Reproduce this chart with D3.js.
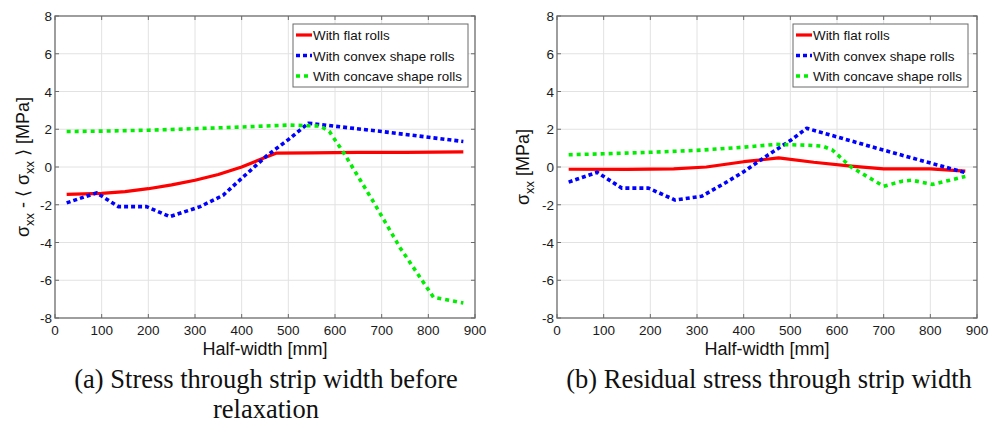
<!DOCTYPE html>
<html>
<head>
<meta charset="utf-8">
<script src="https://cdn.jsdelivr.net/npm/d3@7"></script>
<style>
  body { margin: 0; background: #fff; }
  svg { display: block; }
  .tick-label { font-family: "Liberation Sans", Arial, sans-serif; font-size: 13.5px; fill: #1a1a1a; }
  .axis-title { font-family: "Liberation Sans", Arial, sans-serif; font-size: 18px; fill: #111; }
  .legend-text { font-family: "Liberation Sans", Arial, sans-serif; font-size: 13.4px; fill: #111; }
  .caption { font-family: "Liberation Serif", "Times New Roman", serif; font-size: 26.5px; fill: #111; }
</style>
</head>
<body>
<div id="chart"></div>
<script>
"use strict";

// ---- data (x in mm, y in MPa)
var xTicks = [0, 100, 200, 300, 400, 500, 600, 700, 800, 900];
var yTicks = [-8, -6, -4, -2, 0, 2, 4, 6, 8];
var seriesNames = ["With flat rolls", "With convex shape rolls", "With concave shape rolls"];

// (a) before relaxation
var flatA_x    = [25, 100, 150, 200, 250, 300, 350, 400, 450, 475, 550, 650, 750, 875];
var flatA_y    = [-1.45, -1.4, -1.3, -1.15, -0.95, -0.7, -0.4, 0.0, 0.5, 0.74, 0.75, 0.77, 0.78, 0.8];
var convexA_x  = [25, 89, 136, 196, 246, 311, 360, 400, 454, 500, 543, 700, 875];
var convexA_y  = [-1.9, -1.37, -2.1, -2.1, -2.63, -2.1, -1.5, -0.6, 0.6, 1.45, 2.32, 1.88, 1.35];
var concaveA_x = [25, 100, 200, 300, 400, 500, 568, 588, 620, 680, 740, 811, 875];
var concaveA_y = [1.88, 1.9, 1.95, 2.03, 2.12, 2.22, 2.17, 1.88, 0.7, -1.75, -4.3, -6.9, -7.2];

// (b) residual
var flatB_x    = [25, 150, 250, 320, 400, 475, 550, 630, 700, 800, 875];
var flatB_y    = [-0.12, -0.13, -0.1, 0.0, 0.28, 0.48, 0.25, 0.05, -0.1, -0.1, -0.22];
var convexB_x  = [25, 86, 139, 196, 253, 310, 360, 400, 450, 500, 535, 699, 875];
var convexB_y  = [-0.8, -0.28, -1.12, -1.12, -1.75, -1.55, -0.85, -0.25, 0.6, 1.4, 2.05, 0.9, -0.3];
var concaveB_x = [25, 100, 200, 300, 400, 470, 540, 570, 590, 630, 700, 740, 760, 805, 875];
var concaveB_y = [0.65, 0.7, 0.78, 0.88, 1.05, 1.2, 1.15, 1.1, 0.9, 0.0, -1.02, -0.75, -0.7, -0.92, -0.5];

var W = 1002, H = 423;
var svg = d3.select("#chart").append("svg")
    .attr("width", W)
    .attr("height", H);

var colors = ["#ff0000", "#0000ff", "#00ee00"];
var dashes = [null, "4,3", "4,4"];
var widths = [3.2, 3.6, 3.6];

function zipPts(xs, ys) {
    return xs.map(function (x, i) { return [x, ys[i]]; });
}

function drawPanel(cfg) {
    var x = d3.scaleLinear().domain([0, 900]).range([cfg.left, cfg.right]);
    var y = d3.scaleLinear().domain([-8, 8]).range([318, 16]);
    var g = svg.append("g");

    // grid
    g.append("g").selectAll("line")
        .data(xTicks.slice(1, -1)).enter().append("line")
        .attr("x1", function (d) { return x(d); }).attr("x2", function (d) { return x(d); })
        .attr("y1", y(8)).attr("y2", y(-8))
        .attr("stroke", "#e2e2e2").attr("stroke-width", 1);
    g.append("g").selectAll("line")
        .data(yTicks.slice(1, -1)).enter().append("line")
        .attr("y1", function (d) { return y(d); }).attr("y2", function (d) { return y(d); })
        .attr("x1", x(0)).attr("x2", x(900))
        .attr("stroke", "#e2e2e2").attr("stroke-width", 1);

    // box + inside ticks
    g.append("rect")
        .attr("x", x(0)).attr("y", y(8))
        .attr("width", x(900) - x(0)).attr("height", y(-8) - y(8))
        .attr("fill", "none").attr("stroke", "#6a6a6a").attr("stroke-width", 1.3);
    var tk = g.append("g").attr("stroke", "#6a6a6a").attr("stroke-width", 1);
    xTicks.forEach(function (d) {
        tk.append("line").attr("x1", x(d)).attr("x2", x(d)).attr("y1", y(-8)).attr("y2", y(-8) - 4);
        tk.append("line").attr("x1", x(d)).attr("x2", x(d)).attr("y1", y(8)).attr("y2", y(8) + 4);
    });
    yTicks.forEach(function (d) {
        tk.append("line").attr("y1", y(d)).attr("y2", y(d)).attr("x1", x(0)).attr("x2", x(0) + 4);
        tk.append("line").attr("y1", y(d)).attr("y2", y(d)).attr("x1", x(900)).attr("x2", x(900) - 4);
    });

    // tick labels
    g.append("g").selectAll("text")
        .data(xTicks).enter().append("text")
        .attr("class", "tick-label")
        .attr("x", function (d) { return x(d); })
        .attr("y", y(-8) + 17)
        .attr("text-anchor", "middle")
        .text(function (d) { return d; });
    g.append("g").selectAll("text")
        .data(yTicks).enter().append("text")
        .attr("class", "tick-label")
        .attr("x", x(0) - 3)
        .attr("y", function (d) { return y(d) + 5; })
        .attr("text-anchor", "end")
        .text(function (d) { return d; });

    // series
    var line = d3.line()
        .x(function (d) { return x(d[0]); })
        .y(function (d) { return y(d[1]); });
    cfg.series.forEach(function (pts, i) {
        g.append("path")
            .datum(pts)
            .attr("d", line)
            .attr("fill", "none")
            .attr("stroke", colors[i])
            .attr("stroke-width", widths[i])
            .attr("stroke-dasharray", dashes[i])
            .attr("stroke-linejoin", "round");
    });

    // legend
    var lx = cfg.legendX, ly = 24;
    var lg = g.append("g");
    lg.append("rect")
        .attr("x", lx).attr("y", ly)
        .attr("width", 175).attr("height", 63)
        .attr("fill", "#fff").attr("stroke", "#6a6a6a").attr("stroke-width", 1);
    seriesNames.forEach(function (name, i) {
        var yy = ly + 11 + i * 20.5;
        lg.append("line")
            .attr("x1", lx + 3).attr("x2", lx + 19)
            .attr("y1", yy).attr("y2", yy)
            .attr("stroke", colors[i]).attr("stroke-width", widths[i])
            .attr("stroke-dasharray", dashes[i]);
        lg.append("text")
            .attr("class", "legend-text")
            .attr("x", lx + 20).attr("y", yy + 5)
            .text(name);
    });

    // x title
    g.append("text")
        .attr("class", "axis-title")
        .attr("x", (x(0) + x(900)) / 2)
        .attr("y", 355)
        .attr("text-anchor", "middle")
        .text("Half-width [mm]");

    // y title
    var yt = g.append("text")
        .attr("class", "axis-title")
        .attr("transform", "translate(" + cfg.yTitleX + "," + y(0) + ") rotate(-90)")
        .attr("text-anchor", "middle");
    cfg.yTitle.forEach(function (part) {
        var t = yt.append("tspan").text(part.t);
        if (part.sub) t.attr("font-size", "13px").attr("dy", 5);
        else if (part.after) t.attr("dy", -5);
    });

    // caption
    cfg.caption.forEach(function (c, i) {
        svg.append("text")
            .attr("class", "caption")
            .attr("x", cfg.captionX)
            .attr("y", 388 + i * 30)
            .attr("text-anchor", "middle")
            .text(c);
    });
}

drawPanel({
    left: 55, right: 475, legendX: 293, yTitleX: 29, captionX: 266,
    series: [zipPts(flatA_x, flatA_y), zipPts(convexA_x, convexA_y), zipPts(concaveA_x, concaveA_y)],
    yTitle: [{t: "\u03c3"}, {t: "xx", sub: true}, {t: " - \u27e8 \u03c3", after: true}, {t: "xx", sub: true}, {t: " \u27e9 [MPa]", after: true}],
    caption: ["(a) Stress through strip width before", "relaxation"]
});

drawPanel({
    left: 557, right: 977, legendX: 793, yTitleX: 529, captionX: 769,
    series: [zipPts(flatB_x, flatB_y), zipPts(convexB_x, convexB_y), zipPts(concaveB_x, concaveB_y)],
    yTitle: [{t: "\u03c3"}, {t: "xx", sub: true}, {t: " [MPa]", after: true}],
    caption: ["(b) Residual stress through strip width"]
});
</script>
</body>
</html>
